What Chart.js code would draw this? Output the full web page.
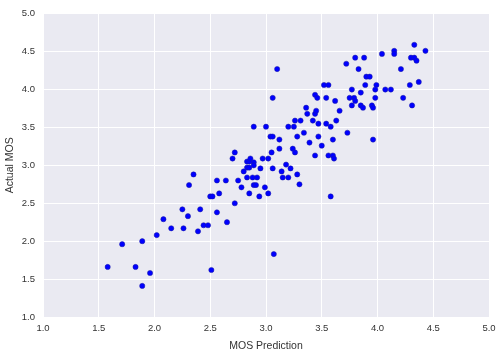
<!doctype html>
<html>
<head>
	<title>MOS scatter</title>
	<script src="https://cdn.jsdelivr.net/npm/chart.js@4/dist/chart.umd.min.js"></script>
	<style>
		html, body { margin: 0; padding: 0; background: #fff; }
		canvas { display: block; }
	</style>
</head>
<body>
	<canvas id="chart" width="502" height="356"></canvas>
	<script>
		var mosPrediction = [
			4.33, 4.15, 4.15, 4.43, 4.04, 4.30, 4.33, 4.35, 3.80, 3.88,
			3.72, 3.10, 3.83, 4.21, 3.90, 3.93, 3.52, 3.56, 3.89, 3.99,
			4.29, 4.37, 3.77, 3.98, 4.07, 4.12, 3.85, 3.44, 3.46, 3.06,
			3.54, 3.75, 3.79, 3.80, 3.98, 4.23, 3.62, 3.77, 3.85, 3.87,
			3.95, 3.96, 4.31, 3.36, 3.66, 3.37, 3.44, 3.45, 3.26, 3.31,
			3.42, 3.63, 3.47, 3.54, 3.58, 2.89, 3.00, 3.20, 3.25, 3.73,
			3.34, 3.04, 3.06, 3.12, 3.47, 3.28, 3.60, 3.96, 3.39, 3.50,
			3.05, 3.12, 3.24, 3.26, 2.97, 3.02, 3.44, 3.56, 3.60, 3.61,
			2.89, 2.89, 3.18, 2.95, 3.06, 3.22, 3.14, 3.28, 2.35, 2.70,
			2.72, 2.83, 2.85, 2.86, 2.83, 2.85, 2.80, 2.31, 2.56, 2.64,
			2.75, 2.83, 2.88, 2.92, 2.89, 2.91, 2.78, 2.99, 2.50, 2.52,
			2.58, 2.85, 2.94, 3.02, 2.72, 2.25, 2.41, 2.56, 2.30, 2.65,
			2.44, 2.48, 2.26, 2.39, 2.08, 2.15, 2.02, 1.71, 1.89, 1.58,
			1.83, 2.51, 1.96, 1.89, 3.07, 3.30, 3.58, 3.15, 3.20
		];
		var actualMos = [
			4.59, 4.51, 4.47, 4.51, 4.47, 4.42, 4.42, 4.38, 4.42, 4.42,
			4.34, 4.27, 4.27, 4.27, 4.17, 4.17, 4.06, 4.06, 4.06, 4.06,
			4.06, 4.10, 4.00, 4.00, 4.00, 4.00, 3.96, 3.93, 3.89, 3.89,
			3.89, 3.89, 3.89, 3.85, 3.89, 3.89, 3.85, 3.79, 3.79, 3.76,
			3.79, 3.76, 3.79, 3.76, 3.72, 3.68, 3.68, 3.72, 3.59, 3.59,
			3.59, 3.59, 3.55, 3.55, 3.51, 3.51, 3.51, 3.51, 3.51, 3.43,
			3.43, 3.38, 3.38, 3.34, 3.38, 3.38, 3.34, 3.34, 3.30, 3.26,
			3.17, 3.22, 3.22, 3.17, 3.09, 3.09, 3.13, 3.13, 3.13, 3.09,
			3.04, 3.00, 3.01, 2.96, 2.96, 2.96, 2.92, 2.88, 2.88, 3.09,
			3.17, 3.05, 3.05, 3.09, 2.97, 2.97, 2.92, 2.74, 2.80, 2.80,
			2.80, 2.84, 2.84, 2.84, 2.74, 2.74, 2.71, 2.71, 2.59, 2.59,
			2.63, 2.63, 2.59, 2.63, 2.50, 2.42, 2.42, 2.38, 2.33, 2.25,
			2.21, 2.21, 2.17, 2.13, 2.29, 2.17, 2.08, 1.96, 2.00, 1.66,
			1.66, 1.62, 1.58, 1.41, 1.83, 2.75, 2.59, 2.84, 2.84
		];
		var tickValues = [1.0, 1.5, 2.0, 2.5, 3.0, 3.5, 4.0, 4.5, 5.0];

		var points = mosPrediction.map(function(x, i) {
			return { x: x, y: actualMos[i] };
		});

		var plotBackground = {
			id: 'plotBackground',
			beforeDraw: function(chart) {
				var a = chart.chartArea;
				var ctx = chart.ctx;
				ctx.save();
				ctx.fillStyle = '#eaeaf2';
				ctx.fillRect(a.left, a.top, a.right - a.left, a.bottom - a.top);
				ctx.restore();
			}
		};

		function setTicks(scale) {
			scale.ticks = tickValues.map(function(v) { return { value: v }; });
		}

		var textColor = '#333';
		var tickFont = { family: 'Liberation Sans, Arial, sans-serif', size: 9.5 };
		var titleFont = { family: 'Liberation Sans, Arial, sans-serif', size: 10.5 };

		new Chart(document.getElementById('chart'), {
			type: 'scatter',
			data: {
				datasets: [{
					data: points,
					backgroundColor: '#0000ff',
					borderColor: '#1a1aa0',
					borderWidth: 0.5,
					pointRadius: 2.6
				}]
			},
			options: {
				responsive: false,
				maintainAspectRatio: false,
				animation: false,
				devicePixelRatio: 1,
				layout: { padding: { left: 0, top: 12, right: 13, bottom: 0 } },
				plugins: {
					legend: { display: false },
					tooltip: { enabled: false }
				},
				scales: {
					x: {
						min: 1, max: 5,
						afterBuildTicks: setTicks,
						afterFit: function(scale) { scale.height = 39; },
						grid: { color: '#ffffff', lineWidth: 1, drawTicks: false },
						border: { display: false },
						ticks: {
							padding: 6, color: textColor, font: tickFont,
							callback: function(v) { return Number(v).toFixed(1); }
						},
						title: { display: true, text: 'MOS Prediction', color: textColor, font: titleFont, padding: { top: 2, bottom: 4 } }
					},
					y: {
						min: 1, max: 5,
						afterBuildTicks: setTicks,
						afterFit: function(scale) { scale.width = 43; },
						grid: { color: '#ffffff', lineWidth: 1, drawTicks: false },
						border: { display: false },
						ticks: {
							padding: 8, color: textColor, font: tickFont,
							callback: function(v) { return Number(v).toFixed(1); }
						},
						title: { display: true, text: 'Actual MOS', color: textColor, font: titleFont, padding: { top: 4, bottom: 2 } }
					}
				}
			},
			plugins: [plotBackground]
		});
	</script>
</body>
</html>
